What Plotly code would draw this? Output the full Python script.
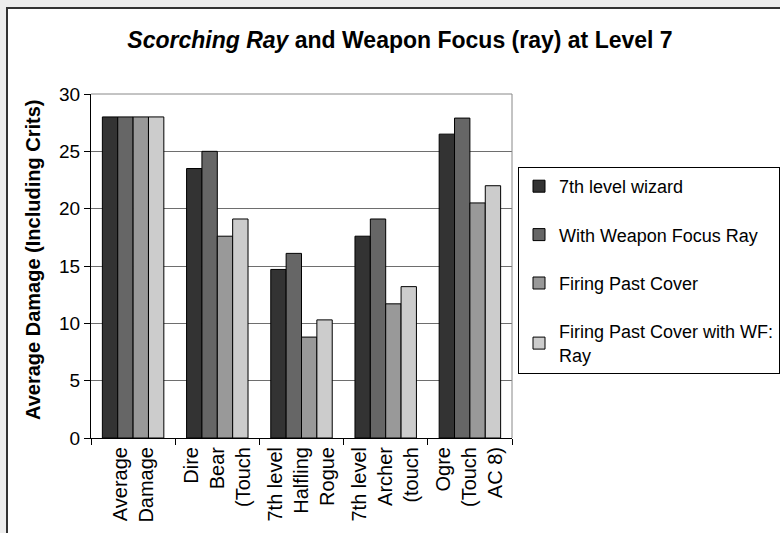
import plotly.graph_objects as go

categories = [
    "Average<br>Damage",
    "Dire<br>Bear<br>(Touch",
    "7th level<br>Halfling<br>Rogue",
    "7th level<br>Archer<br>(touch",
    "Ogre<br>(Touch<br>AC 8)",
]
series_names = [
    "7th level wizard",
    "With Weapon Focus Ray",
    "Firing Past Cover",
    "Firing Past Cover with WF:<br>Ray",
]
wizard = [28.0, 23.5, 14.7, 17.6, 26.5]
weapon_focus = [28.0, 25.0, 16.1, 19.1, 27.9]
past_cover = [28.0, 17.6, 8.8, 11.7, 20.5]
past_cover_wf = [28.0, 19.1, 10.3, 13.2, 22.0]
colors = ["#333333", "#666666", "#999999", "#cccccc"]
y_ticks = [0, 5, 10, 15, 20, 25, 30]

FONT = "Liberation Sans, Arial, sans-serif"

fig = go.Figure()
for i, (name, vals) in enumerate(zip(series_names, [wizard, weapon_focus, past_cover, past_cover_wf])):
    fig.add_trace(go.Bar(
        x=categories, y=vals, name=name, legendgroup=f"g{i}",
        marker=dict(color=colors[i], line=dict(color="#000000", width=1)),
    ))

L, R, T, B = 91, 268, 94, 95
W, H = 780, 533
pw, ph = W - L - R, H - T - B

def px_x(px):
    return (px - L) / pw

def px_y(py):
    return (H - B - py) / ph

fig.add_shape(type="rect", xref="paper", yref="paper", layer="below",
              x0=px_x(7), x1=px_x(800), y0=px_y(560), y1=px_y(8),
              fillcolor="white", line=dict(color="#333333", width=2))

fig.add_annotation(text="<b>Average Damage (Including Crits)</b>", xref="paper", yref="paper",
                   x=px_x(33), y=px_y(260), textangle=-90, showarrow=False,
                   xanchor="center", yanchor="middle", font=dict(size=20))

fig.update_layout(
    width=W, height=H,
    margin=dict(l=L, r=R, t=T, b=B, autoexpand=False),
    paper_bgcolor="#ededed",
    plot_bgcolor="white",
    barmode="group", bargap=0.27, bargroupgap=0,
    font=dict(family=FONT, size=16, color="black"),
    title=dict(text="<b><i>Scorching Ray</i> and Weapon Focus (ray) at Level 7</b>",
               x=px_x(400), xref="paper", xanchor="center",
               y=1 - 40 / H, yanchor="middle", font=dict(size=23)),
    legend=dict(x=px_x(518), y=px_y(167), xanchor="left", yanchor="top",
                bordercolor="black", borderwidth=1, bgcolor="white",
                tracegroupgap=22, font=dict(size=18), itemwidth=30),
    showlegend=True,
)
fig.update_yaxes(range=[0, 30], tickvals=y_ticks, ticks="outside", ticklen=6,
                 tickcolor="black", showline=True, linecolor="black", linewidth=1,
                 gridcolor="#6e6e6e", gridwidth=1, zeroline=False, automargin=False,
                 tickfont=dict(size=19))
fig.update_xaxes(tickangle=-90, ticks="outside", ticklen=6, tickcolor="black",
                 tickson="boundaries", showline=True, linecolor="black", linewidth=1,
                 showgrid=False, automargin=False, tickfont=dict(size=20))
fig.add_shape(type="line", xref="paper", yref="paper", x0=0, x1=1, y0=1, y1=1,
              line=dict(color="#888888", width=1))
fig.add_shape(type="line", xref="paper", yref="paper", x0=1, x1=1, y0=0, y1=1,
              line=dict(color="#888888", width=1))

fig.write_html("out.html", config={"displayModeBar": False},
               post_script="document.body.style.margin='0';")
